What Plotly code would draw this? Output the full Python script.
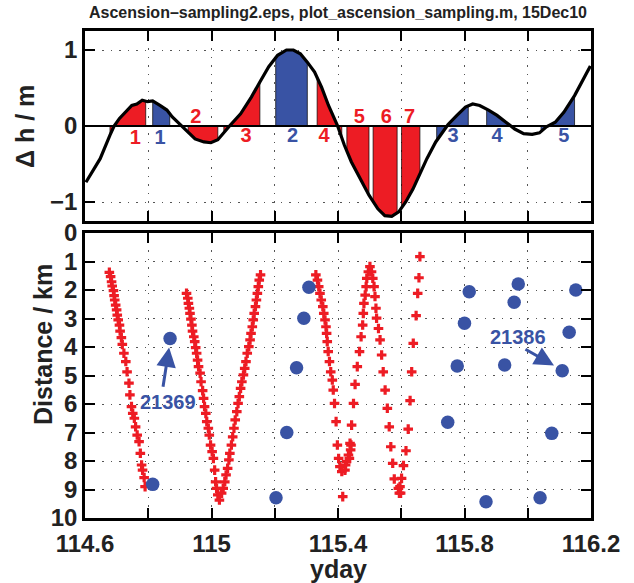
import numpy as np
import plotly.graph_objects as go

# ---------------- data ----------------
title_text = "Ascension\u2013sampling2.eps, plot_ascension_sampling.m, 15Dec10"

# sea-level anomaly curve (top panel)
curve_x = [114.603, 114.648, 114.679, 114.692, 114.709, 114.726, 114.748, 114.764, 114.781, 114.798,
           114.814, 114.837, 114.859, 114.876, 114.903, 114.926, 114.948, 114.976, 114.998, 115.020,
           115.042, 115.059, 115.092, 115.126, 115.153, 115.181, 115.209, 115.237, 115.259, 115.281,
           115.303, 115.326, 115.348, 115.370, 115.398, 115.420, 115.442, 115.470, 115.498, 115.526,
           115.548, 115.570, 115.592, 115.614, 115.637, 115.659, 115.681, 115.709, 115.731, 115.748,
           115.776, 115.803, 115.826, 115.848, 115.876, 115.903, 115.931, 115.959, 115.987, 116.014,
           116.037, 116.059, 116.087, 116.114, 116.148, 116.176, 116.198]
curve_y = [-0.74, -0.43, -0.12, 0.0, 0.10, 0.18, 0.27, 0.29, 0.34, 0.32,
           0.33, 0.27, 0.21, 0.12, 0.01, -0.08, -0.17, -0.21, -0.22, -0.18,
           -0.07, 0.01, 0.16, 0.38, 0.58, 0.78, 0.93, 1.0, 1.0, 0.95,
           0.84, 0.71, 0.51, 0.27, 0.01, -0.25, -0.47, -0.69, -0.91, -1.09,
           -1.18, -1.19, -1.13, -1.00, -0.83, -0.63, -0.43, -0.21, -0.08, 0.02,
           0.14, 0.25, 0.29, 0.27, 0.21, 0.14, 0.05, -0.04, -0.10, -0.11,
           -0.09, -0.01, 0.05, 0.18, 0.40, 0.62, 0.79]

# sampled intervals (red / blue)
red_start = [114.679, 114.926, 115.039, 115.334, 115.428, 115.511, 115.601]
red_end = [114.792, 115.020, 115.153, 115.412, 115.498, 115.587, 115.659]
blue_start = [114.814, 115.203, 115.712, 115.870, 116.042]
blue_end = [114.868, 115.303, 115.812, 115.953, 116.148]

red_label_text = ["1", "2", "3", "4", "5", "6", "7"]
red_label_x = [114.759, 114.950, 115.109, 115.356, 115.467, 115.553, 115.626]
red_label_y = [-0.17, 0.11, -0.15, -0.15, 0.11, 0.11, 0.11]
blue_label_text = ["1", "2", "3", "4", "5"]
blue_label_x = [114.837, 115.256, 115.764, 115.903, 116.114]
blue_label_y = [-0.17, -0.15, -0.15, -0.15, -0.15]

# bottom panel: ship tracks (red crosses)
track1_x = [114.677, 114.681, 114.684, 114.686, 114.690, 114.692, 114.694, 114.697, 114.700, 114.702,
            114.705, 114.709, 114.711, 114.715, 114.718, 114.723, 114.729, 114.733, 114.739, 114.742,
            114.747, 114.751, 114.756, 114.760, 114.765, 114.771, 114.775, 114.779, 114.782, 114.787,
            114.790]
track1_y = [1.38, 1.53, 1.71, 1.86, 2.02, 2.20, 2.35, 2.53, 2.70, 2.88,
            3.05, 3.23, 3.44, 3.67, 3.91, 4.22, 4.51, 4.87, 5.27, 5.68,
            6.09, 6.33, 6.50, 6.80, 7.09, 7.32, 7.73, 8.14, 8.32, 8.58,
            8.90]
track2_x = [114.921, 114.925, 114.927, 114.930, 114.932, 114.935, 114.938, 114.940, 114.944, 114.947,
            114.950, 114.953, 114.956, 114.959, 114.964, 114.967, 114.972, 114.975, 114.978, 114.982,
            114.985, 114.990, 114.993, 114.997, 115.002, 115.006, 115.010, 115.013, 115.016, 115.020,
            115.025,
            115.032, 115.037, 115.042, 115.046, 115.051, 115.055, 115.058, 115.063, 115.067, 115.071,
            115.075, 115.080, 115.084, 115.088, 115.092, 115.096, 115.101, 115.105, 115.109, 115.113,
            115.118, 115.122, 115.125, 115.129, 115.132, 115.135, 115.139, 115.142, 115.145, 115.148,
            115.151, 115.155]
track2_y = [2.12, 2.29, 2.47, 2.64, 2.82, 3.02, 3.23, 3.44, 3.64, 3.81,
            4.02, 4.22, 4.46, 4.69, 4.92, 5.22, 5.53, 5.80, 6.09, 6.33,
            6.62, 6.85, 7.09, 7.44, 7.67, 7.91, 8.32, 8.73, 8.96, 9.19,
            9.37,
            9.13, 8.96, 8.73, 8.49, 8.26, 7.96, 7.73, 7.44, 7.15, 6.85,
            6.56, 6.27, 5.98, 5.74, 5.45, 5.22, 4.98, 4.75, 4.51, 4.22,
            3.99, 3.75, 3.52, 3.29, 3.05, 2.82, 2.58, 2.35, 2.12, 1.88,
            1.65, 1.47]
track3_x = [115.330, 115.335, 115.339, 115.343, 115.347, 115.352, 115.355, 115.359, 115.362, 115.364,
            115.366, 115.369, 115.373, 115.377, 115.382, 115.385, 115.389, 115.394, 115.398, 115.402,
            115.406, 115.412, 115.415]
track3_y = [1.47, 1.65, 1.88, 2.12, 2.35, 2.58, 2.82, 3.05, 3.29, 3.52,
            3.81, 4.16, 4.51, 4.87, 5.16, 5.51, 5.98, 6.62, 7.44, 7.91,
            8.20, 8.37, 9.25]
track4_x = [115.422, 115.424, 115.427, 115.433, 115.436, 115.440, 115.438, 115.441, 115.443, 115.449,
            115.454, 115.461, 115.468, 115.473, 115.478, 115.480, 115.482, 115.486, 115.489, 115.491,
            115.496, 115.501,
            115.506, 115.510, 115.514, 115.517, 115.520, 115.522, 115.528, 115.533, 115.538, 115.543,
            115.549, 115.556, 115.562, 115.567, 115.573, 115.578, 115.591, 115.594]
track4_y = [8.32, 8.14, 8.02, 7.79, 7.91, 7.61, 7.38, 7.44, 6.74, 5.98,
            5.31, 4.69, 4.16, 3.64, 3.23, 2.82, 2.47, 2.18, 1.88, 1.59,
            1.36, 1.18,
            1.36, 1.59, 1.88, 2.23, 2.64, 2.99, 3.35, 3.75, 4.28, 4.87,
            5.51, 6.15, 6.80, 7.50, 8.08, 8.63, 8.96, 9.13]
track5_x = [115.659, 115.656, 115.652, 115.647, 115.638, 115.633, 115.628, 115.622, 115.615, 115.607,
            115.601, 115.596, 115.598]
track5_y = [0.83, 1.57, 2.12, 2.90, 3.87, 4.87, 5.88, 6.88, 7.64, 8.16,
            8.61, 8.90, 9.13]

# bottom panel: float / mooring positions (blue dots)
dots_x = [114.869, 114.814, 115.204, 115.238, 115.269, 115.292, 115.308,
          115.815, 115.800, 115.777, 115.747, 115.868, 115.970, 115.957, 115.927,
          116.039, 116.076, 116.109, 116.131, 116.152]
dots_y = [3.70, 8.82, 9.29, 7.00, 4.73, 2.99, 1.90,
          2.06, 3.17, 4.67, 6.64, 9.43, 1.79, 2.43, 4.63,
          9.29, 7.03, 4.83, 3.48, 2.00]

# annotated floats: label, label position, arrow tail, arrow head
ann_text = ["21369", "21386"]
ann_x = [114.864, 115.970]
ann_y = [5.92, 3.64]
arrow_tail_x = [114.846, 115.988]
arrow_tail_y = [5.45, 4.05]
arrow_head_x = [114.866, 116.083]
arrow_head_y = [4.02, 4.65]

x_ticks = [114.6, 114.8, 115.0, 115.2, 115.4, 115.6, 115.8, 116.0, 116.2]
x_ticktext = ["114.6", "", "115", "", "115.4", "", "115.8", "", "116.2"]
top_yticks = [-1, 0, 1]
top_yticktext = ["\u22121", "0", "1"]
bot_yticks = list(range(0, 11))

# ---------------- styling ----------------
RED = "#ed1c24"
BLUE = "#3953a4"
FONT = "Liberation Sans"

fig = go.Figure()

cx = np.array(curve_x)
cy = np.array(curve_y)


def seg_polygon(a, b):
    inside = (cx > a) & (cx < b)
    xs = [a, a] + list(cx[inside]) + [b, b, a]
    ys = [0, float(np.interp(a, cx, cy))] + list(cy[inside]) + [float(np.interp(b, cx, cy)), 0, 0]
    return xs, ys


for starts, ends, col in [(red_start, red_end, RED), (blue_start, blue_end, BLUE)]:
    for a, b in zip(starts, ends):
        xs, ys = seg_polygon(a, b)
        fig.add_trace(go.Scatter(x=xs, y=ys, mode="lines", fill="toself", fillcolor=col,
                                 line=dict(color="black", width=0.7), hoverinfo="skip",
                                 showlegend=False, xaxis="x", yaxis="y"))

# baseline
fig.add_trace(go.Scatter(x=[114.6, 116.2], y=[0, 0], mode="lines",
                         line=dict(color="black", width=2), showlegend=False,
                         xaxis="x", yaxis="y"))
# curve
fig.add_trace(go.Scatter(x=curve_x, y=curve_y, mode="lines",
                         line=dict(color="black", width=3.2), showlegend=False,
                         xaxis="x", yaxis="y"))

# number labels
for txts, xs, ys, col in [(red_label_text, red_label_x, red_label_y, RED),
                          (blue_label_text, blue_label_x, blue_label_y, BLUE)]:
    fig.add_trace(go.Scatter(x=xs, y=ys, mode="text", text=txts,
                             textfont=dict(family=FONT, size=20, color=col, weight="bold"),
                             showlegend=False, xaxis="x", yaxis="y"))

# red crosses
for tx, ty in [(track1_x, track1_y), (track2_x, track2_y), (track3_x, track3_y),
               (track4_x, track4_y), (track5_x, track5_y)]:
    fig.add_trace(go.Scatter(x=tx, y=ty, mode="markers",
                             marker=dict(symbol="cross", size=8, color=RED, line=dict(width=0)),
                             showlegend=False, xaxis="x2", yaxis="y2"))

# blue dots
fig.add_trace(go.Scatter(x=dots_x, y=dots_y, mode="markers",
                         marker=dict(symbol="circle", size=13.5, color=BLUE, line=dict(width=0)),
                         showlegend=False, xaxis="x2", yaxis="y2"))

annotations = []
for t, x, y in zip(ann_text, ann_x, ann_y):
    annotations.append(dict(x=x, y=y, xref="x2", yref="y2", text=t, showarrow=False,
                            font=dict(family=FONT, size=20, color=BLUE, weight="bold")))
for tx, ty, hx, hy in zip(arrow_tail_x, arrow_tail_y, arrow_head_x, arrow_head_y):
    annotations.append(dict(x=hx, y=hy, xref="x2", yref="y2", ax=tx, ay=ty, axref="x2", ayref="y2",
                            text="", showarrow=True, arrowhead=2, arrowsize=1.3, arrowwidth=3,
                            arrowcolor=BLUE, standoff=0))

annotations.append(dict(x=0.5, y=1.0 + 19 / 487, xref="paper", yref="paper", text=title_text,
                        showarrow=False, yanchor="middle",
                        font=dict(family=FONT, size=16, color="#222", weight="bold")))
annotations.append(dict(x=0.5, y=-51 / 487, xref="paper", yref="paper", text="yday",
                        showarrow=False, yanchor="middle",
                        font=dict(family=FONT, size=25, color="#222", weight="bold")))
annotations.append(dict(x=(25 - 85) / 506, y=(518 - 127) / 487, xref="paper", yref="paper",
                        text="\u0394 h / m", textangle=-90, showarrow=False,
                        xanchor="center", yanchor="middle",
                        font=dict(family=FONT, size=25, color="#222", weight="bold")))
annotations.append(dict(x=(43 - 85) / 506, y=(518 - 345) / 487, xref="paper", yref="paper",
                        text="Distance / km", textangle=-90, showarrow=False,
                        xanchor="center", yanchor="middle",
                        font=dict(family=FONT, size=25, color="#222", weight="bold")))

axis_common = dict(showline=True, linecolor="black", linewidth=2.5, mirror="allticks",
                   ticks="inside", ticklen=10, tickwidth=2, tickcolor="black",
                   showgrid=True, gridcolor="#555", gridwidth=1.2, griddash="1.5px,7px",
                   zeroline=False,
                   tickfont=dict(family=FONT, size=24, color="#222", weight="bold"))

fig.update_layout(
    width=634, height=583,
    margin=dict(l=85, r=43, t=31, b=65, autoexpand=False),
    paper_bgcolor="white", plot_bgcolor="white",
    showlegend=False,
    xaxis=dict(domain=[0, 1], anchor="y", range=[114.6, 116.2], tickvals=x_ticks,
               ticktext=x_ticktext, showticklabels=False, **axis_common),
    yaxis=dict(domain=[297 / 487, 1.0], anchor="x", range=[-1.25, 1.25], tickvals=top_yticks,
               ticktext=top_yticktext, **axis_common),
    xaxis2=dict(domain=[0, 1], anchor="y2", range=[114.6, 116.2], tickvals=x_ticks,
                ticktext=x_ticktext, ticklabelstandoff=2, **axis_common),
    yaxis2=dict(domain=[0, 285 / 487], anchor="x2", range=[10, 0], tickvals=bot_yticks,
                **axis_common),
    annotations=annotations,
)

fig.write_html("out.html")
